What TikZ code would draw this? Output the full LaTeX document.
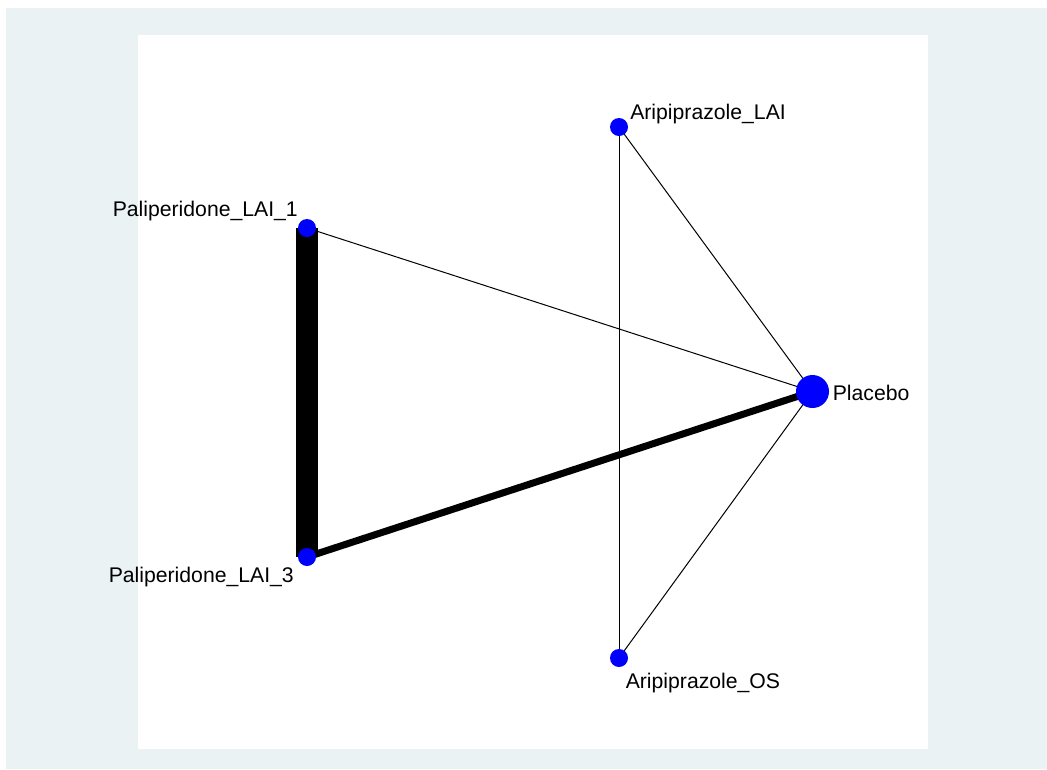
\documentclass[tikz,border=0pt]{standalone}
\usepackage{fontspec}
\setmainfont{Liberation Sans}
\usetikzlibrary{backgrounds}
\definecolor{bgblue}{RGB}{234,242,243}
\tikzset{
    trt/.style={circle, fill=blue, inner sep=0pt, minimum size=13.5pt},
    lbl/.style={inner sep=0pt, anchor=base west, font=\fontsize{15.9}{18}\selectfont},
    thin edge/.style={line width=0.75pt}
}
\begin{document}
\begin{tikzpicture}[x=0.75pt, y=-0.75pt]
            \useasboundingbox (0,0) rectangle (1047,769);

            % treatments
            \node [trt] (pal1) at (307,228) {};
            \node [trt] (pal3) at (307,557) {};
            \node [trt] (arilai) at (619,127) {};
            \node [trt] (arios) at (619,658) {};
            \node [trt, minimum size=24.75pt] (plac) at (812.5,391.5) {};

            \node [lbl] (pal1lbl) at (112.5,216) {Paliperidone\_LAI\_1};
            \node [lbl] (pal3lbl) at (108.5,582) {Paliperidone\_LAI\_3};
            \node [lbl] (arilailbl) at (630,119.5) {Aripiprazole\_LAI};
            \node [lbl] (arioslbl) at (625.5,688) {Aripiprazole\_OS};
            \node [lbl] (placlbl) at (832.5,400) {Placebo};

            % comparisons, behind the dots
            \begin{pgfonlayer}{background}
            \fill [white] (0,0) rectangle (1047,769);
            \fill [bgblue] (6,8) rectangle (1047,769);
            \fill [white] (138,35) rectangle (928,749);
            \draw [line width=17pt] (pal1.center) -- (pal3.center);
            \draw [line width=5.25pt] (pal3.center) -- (plac.center);
            \draw [thin edge] (pal1.center) -- (plac.center);
            \draw [thin edge] (arilai.center) -- (plac.center);
            \draw [thin edge] (arilai.center) -- (arios.center);
            \draw [thin edge] (arios.center) -- (plac.center);
            \end{pgfonlayer}

        \end{tikzpicture}
\end{document}
